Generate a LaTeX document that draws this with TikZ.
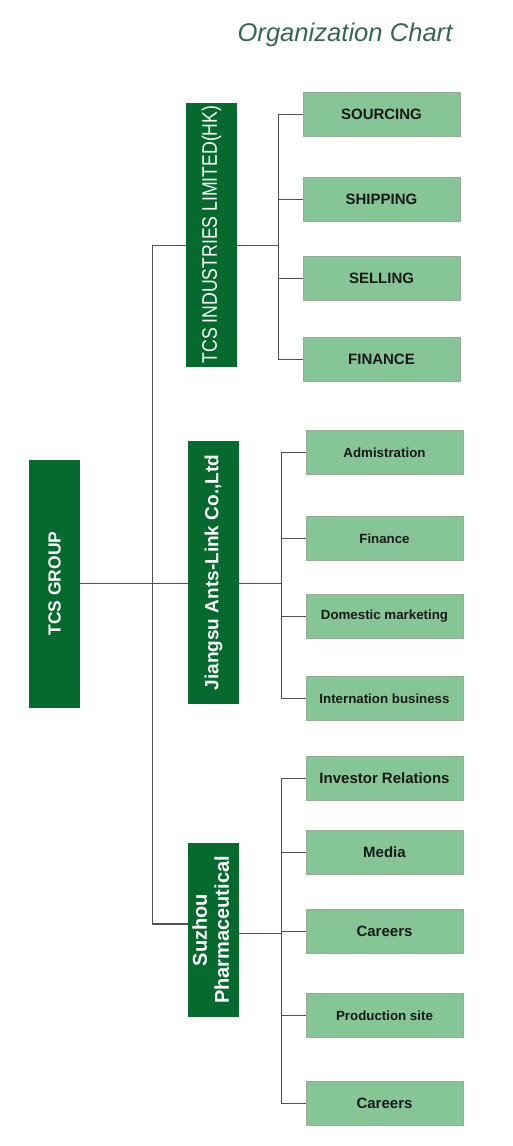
\documentclass[tikz,border=0pt]{standalone}
\usepackage{fontspec}
\setmainfont{Liberation Sans}
\newfontfamily\narrowsf[FakeStretch=0.84]{Liberation Sans}
\usetikzlibrary{calc}
\definecolor{orgdark}{RGB}{6, 106, 46}
\definecolor{orglight}{RGB}{134, 198, 150}
\definecolor{orgedge}{RGB}{150, 172, 152}
\definecolor{orgline}{RGB}{80, 80, 80}
\definecolor{orgtitle}{RGB}{55, 100, 90}

\begin{document}
\begin{tikzpicture}[x=1pt, y=-1pt,
  head/.style={fill=orgdark, text=white, inner sep=0pt, minimum width=51pt},
  dept/.style={fill=orglight, draw=orgedge, line width=0.8pt, text=black!90, font=\bfseries\fontsize{15}{18}\selectfont, inner sep=0pt, minimum width=157pt, minimum height=44pt},
  small/.style={font=\bfseries\fontsize{13.3}{16}\selectfont},
  link/.style={draw=orgline, line width=1.1pt},
  charttitle/.style={font=\itshape\fontsize{25.6}{30}\selectfont, text=orgtitle}
]
\useasboundingbox (0,0) rectangle (513,1146);

\node[charttitle] (ttl) at (345,35) {Organization Chart};

% Companies
\node[head, minimum height=248pt] (grp) at (54.5,583.5) {\rotatebox{90}{\bfseries\fontsize{17.5}{20}\selectfont TCS GROUP}};
\node[head, minimum height=264pt] (hk) at (211.5,234.5) {\rotatebox{90}{\narrowsf\fontsize{21}{24}\selectfont TCS INDUSTRIES LIMITED(HK)}};
\node[head, minimum height=263pt] (js) at (213.5,572.5) {\rotatebox{90}{\bfseries\fontsize{19}{22}\selectfont Jiangsu Ants-Link Co.,Ltd}};
\node[head, minimum height=174pt] (sz) at (213.5,930) {\rotatebox{90}{\bfseries\fontsize{20}{22}\selectfont\begin{tabular}{@{}c@{}}Suzhou\\Pharmaceutical\end{tabular}}};

% Departments
\node[dept] (src) at (381.5,114.5) {SOURCING};
\node[dept] (shp) at (381.5,199.5) {SHIPPING};
\node[dept] (sel) at (381.5,278.5) {SELLING};
\node[dept] (fin) at (381.5,359.5) {FINANCE};

\node[dept, small] (adm) at (384.5,452.5) {Admistration};
\node[dept, small] (jfin) at (384.5,538.5) {Finance};
\node[dept, small] (dom) at (384.5,616.5) {Domestic marketing};
\node[dept, small] (intl) at (384.5,698.5) {Internation business};

\node[dept] (inv) at (384.5,778.5) {Investor Relations};
\node[dept] (med) at (384.5,852.5) {Media};
\node[dept] (car) at (384.5,931.5) {Careers};
\node[dept, small] (prod) at (384.5,1015.5) {Production site};
\node[dept] (car2) at (384.5,1103.5) {Careers};

% Connectors
\coordinate (trunk) at (152.5,583.5);
\coordinate (hkbus) at (278.5,245.5);
\coordinate (jsbus) at (281.5,583.5);
\coordinate (szbus) at (281.5,933.5);

\draw[link] (grp.east) -- (grp.east -| js.west);
\draw[link] ($(hk.west)+(0,11)$) -| (trunk) |- ($(sz.west)+(0,-6)$);

\draw[link] ($(hk.east)+(0,11)$) -- (hkbus);
\foreach \d in {src,shp,sel,fin}
  \draw[link] (hkbus) |- (\d.west);

\draw[link] (js.east |- jsbus) -- (jsbus);
\foreach \d in {adm,jfin,dom,intl}
  \draw[link] (jsbus) |- (\d.west);

\draw[link] (sz.east |- szbus) -- (szbus);
\foreach \d in {inv,med,car,prod,car2}
  \draw[link] (szbus) |- (\d.west);

\end{tikzpicture}
\end{document}
